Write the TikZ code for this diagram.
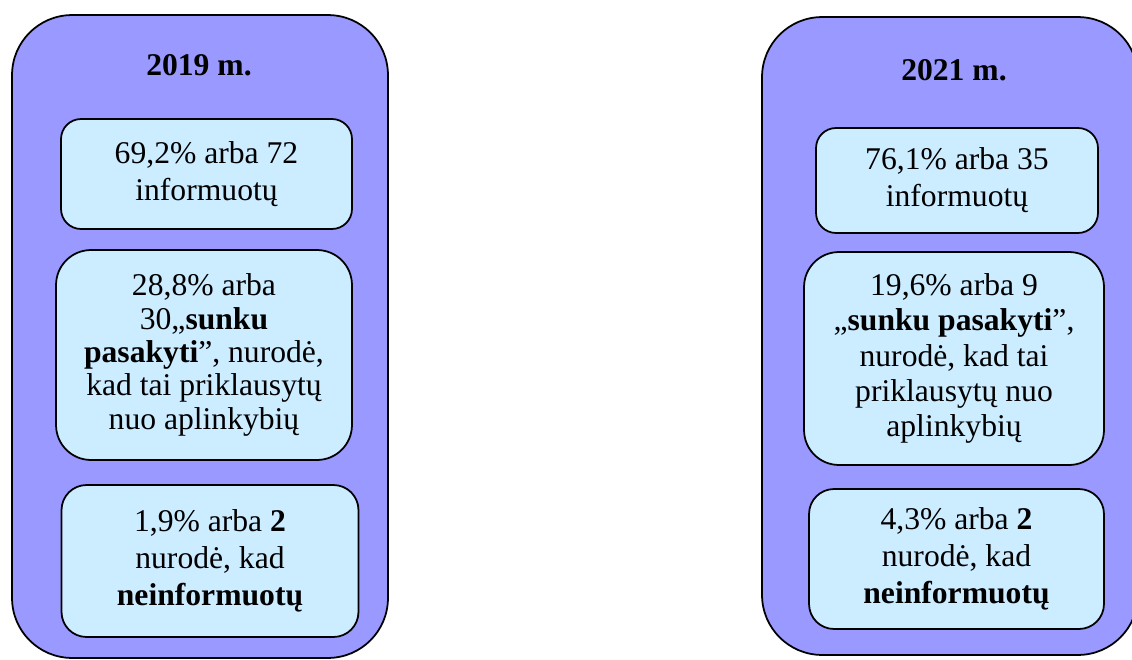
\documentclass[tikz,border=0pt]{standalone}
\usepackage{fontspec}
\setmainfont{Liberation Serif}
\definecolor{yearblue}{HTML}{9999FF}
\definecolor{cellblue}{HTML}{CCECFF}

\begin{document}
\begin{tikzpicture}[x=0.02cm, y=-0.02cm,
	yearbox/.style={draw, line width=1pt, fill=yearblue, rounded corners=1.2cm, inner sep=0pt},
	cellbox/.style={draw, line width=1pt, fill=cellblue, rounded corners=0.4cm, align=center, inner sep=2pt, font=\fontsize{18}{21}\selectfont},
	yeartitle/.style={font=\fontsize{18}{21}\selectfont\bfseries}]
	\clip (0,0) rectangle (1132,659);

	% 2019
	\node[yearbox, minimum width=7.52cm, minimum height=12.86cm] (y2019) at (200,336.5) {};
	\node[yeartitle] (t2019) at (199,65) {2019 m.};
	\node[cellbox, minimum width=5.82cm, minimum height=2.2cm] (inf2019) at (206.5,174) {69,2\% arba 72\\ informuotų};
	\node[cellbox, minimum width=5.92cm, minimum height=4.2cm, rounded corners=0.7cm, font=\fontsize{18}{19}\selectfont] (hard2019) at (204,355)
		{28,8\% arba\\ 30„\textbf{sunku}\\ \textbf{pasakyti}”, nurodė,\\ kad tai priklausytų\\ nuo aplinkybių};
	\node[cellbox, minimum width=5.94cm, minimum height=3.04cm, rounded corners=0.5cm] (neinf2019) at (210,561)
		{1,9\% arba \textbf{2}\\ nurodė, kad\\ \textbf{neinformuotų}};

	% 2021
	\node[yearbox, minimum width=7.52cm, minimum height=12.76cm] (y2021) at (950,336) {};
	\node[yeartitle] (t2021) at (954,70) {2021 m.};
	\node[cellbox, minimum width=5.64cm, minimum height=2.1cm] (inf2021) at (957,180.5) {76,1\% arba 35\\ informuotų};
	\node[cellbox, minimum width=6cm, minimum height=4.26cm, rounded corners=0.7cm, font=\fontsize{18}{20}\selectfont] (hard2021) at (954,358.5)
		{19,6\% arba 9\\ „\textbf{sunku pasakyti}”,\\ nurodė, kad tai\\ priklausytų nuo\\ aplinkybių};
	\node[cellbox, minimum width=5.9cm, minimum height=2.8cm, rounded corners=0.5cm] (neinf2021) at (956.5,559)
		{4,3\% arba \textbf{2}\\ nurodė, kad\\ \textbf{neinformuotų}};
\end{tikzpicture}
\end{document}
